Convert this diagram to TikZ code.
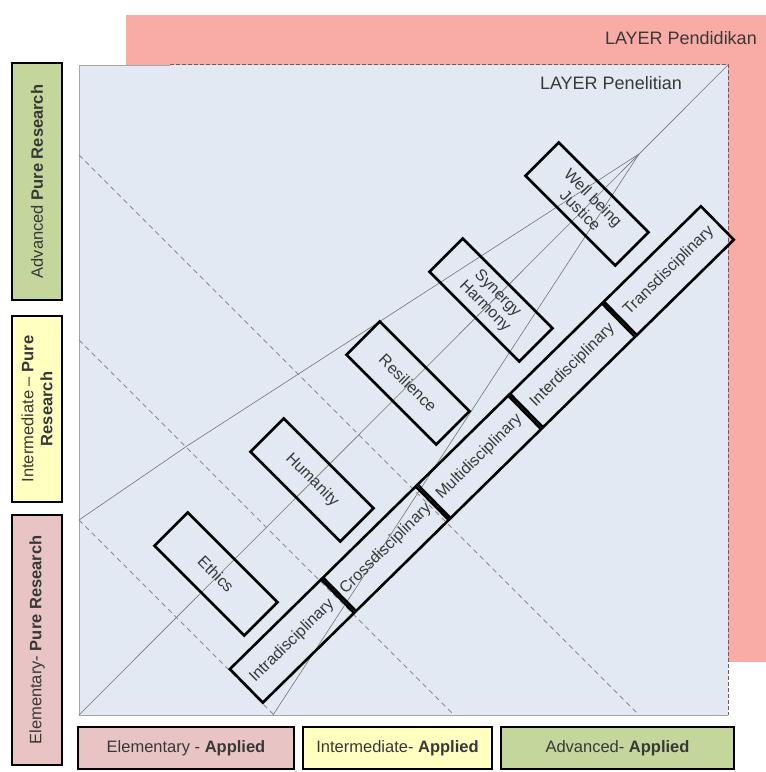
\documentclass[tikz,border=0pt]{standalone}
\usepackage{fontspec}
\setmainfont{Liberation Sans}
\definecolor{pinkbg}{HTML}{F9ACA6}
\definecolor{bluebg}{HTML}{E3E9F3}
\definecolor{greenbox}{HTML}{C4D69B}
\definecolor{yellowbox}{HTML}{FFFFC0}
\definecolor{pinkbox}{HTML}{E8C4C4}
\definecolor{txt}{HTML}{383838}
\begin{document}
\begin{tikzpicture}[x=1pt,y=-1pt,
  thinl/.style={draw=black!55, line width=0.6pt},
  dashl/.style={draw=black!45, line width=0.9pt, dash pattern=on 5pt off 4pt},
  layerdash/.style={draw=black!50!pinkbg, line width=0.9pt, dash pattern=on 4pt off 2pt},
  topic/.style={draw=black, line width=2.6pt, minimum width=127pt, minimum height=47pt,
    inner sep=0pt, align=center, text=txt, font=\fontsize{16}{18}\selectfont, rotate=-45},
  disc/.style={draw=black, line width=2.6pt, minimum height=47pt, inner sep=0pt,
    text=txt, font=\fontsize{16}{18}\selectfont, rotate=44.5},
  lvl/.style={draw=black, line width=2.6pt, inner sep=0pt, align=center, text=txt,
    font=\fontsize{16.5}{19}\selectfont},
  layerlbl/.style={text=txt, font=\fontsize{18}{20}\selectfont, inner sep=0pt}
]
\useasboundingbox (0,0) rectangle (766,772);
% layers
\fill[pinkbg] (126,15) rectangle (766,662);
\fill[bluebg] (79,65) rectangle (728,715);
\draw[black!35, line width=0.8pt] (170,65) -- (79,65) -- (79,715) -- (728,715);
\draw[layerdash] (170,64) -- (728,64) -- (728,715);
\node[layerlbl, anchor=east] (lp) at (757,38) {LAYER Pendidikan};
\node[layerlbl, anchor=east] (ln) at (682,83) {LAYER Penelitian};
% reference points
\coordinate (P) at (639,154);
\coordinate (TR) at (728,65);
\coordinate (BL) at (79,715);
\coordinate (A) at (79,520);
\coordinate (K) at (187,446);
\coordinate (C) at (273,715);
\coordinate (D1s) at (79,155);
\coordinate (D1e) at (639,715);
\coordinate (D2s) at (79,340);
\coordinate (D2e) at (454,715);
\coordinate (D3e) at (274,715);
% thin lines
\draw[thinl] (BL) -- (TR);
\draw[thinl] (A) -- (K) -- (P);
\draw[thinl] (C) -- (P);
% dashed lines
\draw[dashl] (D1s) -- (D1e);
\draw[dashl] (D2s) -- (D2e);
\draw[dashl] (A) -- (D3e);
% topic boxes
\node[topic] (ethics) at (216,574) {Ethics};
\node[topic] (humanity) at (312,480) {Humanity};
\node[topic] (resilience) at (408,383) {Resilience};
\node[topic] (synergy) at (491,300) {Synergy\\Harmony};
\node[topic] (wellbeing) at (587,204) {Well being\\Justice};
% discipline chain
\node[disc, minimum width=128pt] (intra) at (292,641) {Intradisciplinary};
\node[disc, minimum width=130pt, anchor=west] (cross) at (intra.east) {Crossdisciplinary};
\node[disc, minimum width=127pt, anchor=west] (multi) at (cross.east) {Multidisciplinary};
\node[disc, minimum width=129pt, anchor=west] (inter) at (multi.east) {Interdisciplinary};
\node[disc, minimum width=136pt, anchor=west] (trans) at (inter.east) {Transdisciplinary};
% level boxes left
\node[lvl, fill=greenbox, rotate=90, minimum width=237pt, minimum height=50pt] (advp) at (37,181.5) {Advanced \textbf{Pure Research}};
\node[lvl, fill=yellowbox, rotate=90, minimum width=186pt, minimum height=50pt] (intp) at (37,409) {Intermediate -- \textbf{Pure}\\\textbf{Research}};
\node[lvl, fill=pinkbox, rotate=90, minimum width=250pt, minimum height=50pt] (elemp) at (37,640) {Elementary- \textbf{Pure Research}};
% level boxes bottom
\node[lvl, fill=pinkbox, minimum width=216pt, minimum height=42pt] (elema) at (186,748) {Elementary - \textbf{Applied}};
\node[lvl, fill=yellowbox, minimum width=189pt, minimum height=42pt] (inta) at (397.5,748) {Intermediate- \textbf{Applied}};
\node[lvl, fill=greenbox, minimum width=233pt, minimum height=42pt] (adva) at (617.5,748) {Advanced- \textbf{Applied}};
\end{tikzpicture}
\end{document}
